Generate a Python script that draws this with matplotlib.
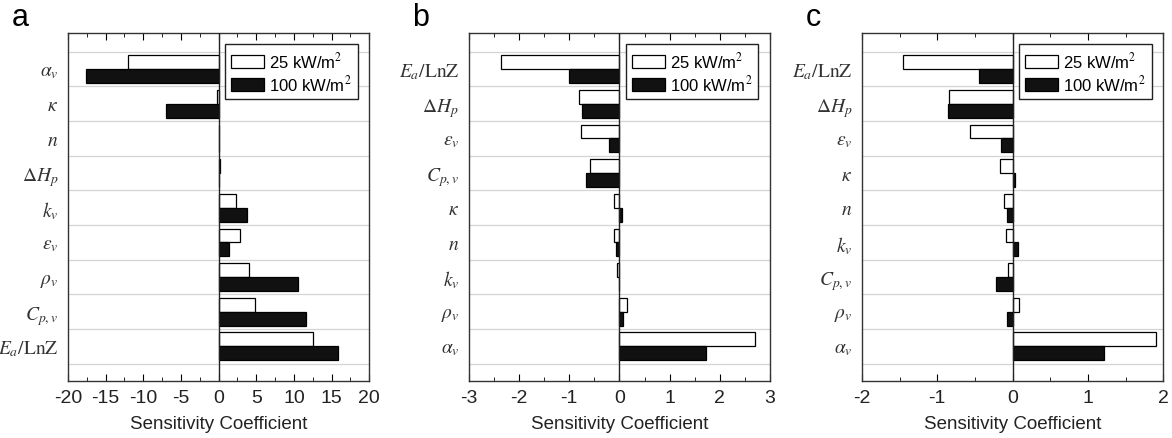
import numpy as np
import matplotlib
matplotlib.use("Agg")
import matplotlib.pyplot as plt
from matplotlib.ticker import MultipleLocator

plt.rcParams['font.family'] = ['Liberation Sans', 'DejaVu Sans']
plt.rcParams['mathtext.fontset'] = 'stix'

# panel a (top to bottom)
labels_a = [r'$\alpha_v$', r'$\kappa$', r'$n$', r'$\Delta H_p$', r'$k_v$',
            r'$\varepsilon_v$', r'$\rho_v$', r'$C_{p,v}$', r'$E_a/\mathrm{LnZ}$']
low_a = [-12.05, -0.15, 0.0, 0.2, 2.25, 2.83, 4.0, 4.86, 12.54]
high_a = [-17.66, -6.93, 0.0, 0.05, 3.75, 1.37, 10.6, 11.57, 15.9]

# panel b
labels_b = [r'$E_a/\mathrm{LnZ}$', r'$\Delta H_p$', r'$\varepsilon_v$', r'$C_{p,v}$',
            r'$\kappa$', r'$n$', r'$k_v$', r'$\rho_v$', r'$\alpha_v$']
low_b = [-2.35, -0.81, -0.77, -0.58, -0.11, -0.11, -0.05, 0.15, 2.71]
high_b = [-1.01, -0.74, -0.20, -0.66, 0.06, -0.07, 0.0, 0.08, 1.73]

# panel c
labels_c = [r'$E_a/\mathrm{LnZ}$', r'$\Delta H_p$', r'$\varepsilon_v$', r'$\kappa$',
            r'$n$', r'$k_v$', r'$C_{p,v}$', r'$\rho_v$', r'$\alpha_v$']
low_c = [-1.45, -0.85, -0.57, -0.17, -0.11, -0.09, -0.06, 0.09, 1.91]
high_c = [-0.45, -0.855, -0.15, 0.03, -0.07, 0.07, -0.22, -0.07, 1.22]

panels = [
    ('a', labels_a, low_a, high_a, 20, 5, 2.5, 0.058),
    ('b', labels_b, low_b, high_b, 3, 1, 0.5, 0.400),
    ('c', labels_c, low_c, high_c, 2, 1, 0.5, 0.7355),
]

fig = plt.figure(figsize=(11.72, 4.39), dpi=100)

for letter, labels, low, high, lim, major, minor, left in panels:
    ax = fig.add_axes([left, 0.130, 0.257, 0.793])
    y = np.arange(len(labels))
    h = 0.4
    ax.barh(y - h / 2, low, height=h, color='white', edgecolor='black',
            linewidth=0.9, label='25 kW/m$^2$', zorder=3)
    ax.barh(y + h / 2, high, height=h, color='#111111', edgecolor='black',
            linewidth=0.9, label='100 kW/m$^2$', zorder=3)
    for b in np.arange(len(labels) + 1) - 0.5:
        ax.axhline(b, color='#d4d4d4', linewidth=0.9, zorder=1)
    ax.axvline(0, color='#222222', linewidth=1.0, zorder=4)
    ax.set_xlim(-lim, lim)
    ax.set_ylim(len(labels) + 0.0, -1.05)
    ax.set_yticks(y)
    ax.set_yticklabels(labels, fontsize=14, color='#333333')
    ax.tick_params(axis='y', length=0, pad=7)
    ax.xaxis.set_major_locator(MultipleLocator(major))
    ax.xaxis.set_minor_locator(MultipleLocator(minor))
    ax.tick_params(axis='x', which='both', direction='in', top=True,
                   labelsize=14, pad=6, labelcolor='#222222')
    ax.tick_params(axis='x', which='major', length=5)
    ax.tick_params(axis='x', which='minor', length=3)
    ax.set_xticklabels([f'{int(t)}' for t in ax.get_xticks()])
    for s in ax.spines.values():
        s.set_color('#333333')
        s.set_linewidth(1.0)
    ax.set_xlabel('Sensitivity Coefficient', fontsize=13.5, color='#222222', labelpad=6)
    leg = ax.legend(loc='upper right', fontsize=12, fancybox=False,
                    edgecolor='#222222', framealpha=1, handlelength=2.0,
                    handleheight=0.8, borderpad=0.35, labelspacing=0.2,
                    handletextpad=0.3, borderaxespad=0.7)
    leg.get_frame().set_linewidth(1.0)
    fig.text(left - 0.048, 0.96, letter, fontsize=22, va='center', ha='left')

fig.savefig('out.png', dpi=100)
